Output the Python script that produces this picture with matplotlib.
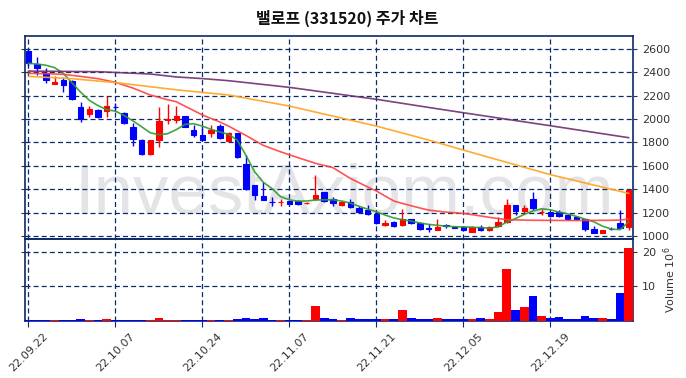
import matplotlib
matplotlib.use("Agg")
import matplotlib.pyplot as plt
import numpy as np

# ---------------- data ----------------
title = "밸로프 (331520) 주가 차트"
tick_pos = [0, 10, 20, 30, 40, 50, 60]
tick_labels = ['22.09.22', '22.10.07', '22.10.24', '22.11.07', '22.11.21', '22.12.05', '22.12.19']

opens = [2580, 2470, 2390, 2302, 2330, 2325, 2100, 2045, 2075, 2065,
         2105, 2050, 1930, 1825, 1700, 1820, 1988, 1992, 2025, 1905,
         1860, 1885, 1940, 1815, 1880, 1615, 1435, 1340, 1295, 1290,
         1300, 1300, 1279, 1316, 1375, 1315, 1262, 1295, 1240, 1220,
         1190, 1092, 1122, 1092, 1142, 1112, 1068, 1052, 1093, 1077,
         1075, 1038, 1075, 1052, 1088, 1122, 1265, 1215, 1315, 1205,
         1205, 1205, 1180, 1163, 1142, 1060, 1030, 1062, 1113, 1080]
highs = [2590, 2530, 2435, 2370, 2360, 2330, 2145, 2115, 2090, 2195,
         2135, 2060, 1965, 1830, 1825, 2105, 2125, 2115, 2030, 1950,
         1940, 1950, 1960, 1890, 1880, 1690, 1440, 1465, 1330, 1320,
         1305, 1310, 1290, 1520, 1380, 1330, 1292, 1320, 1260, 1265,
         1195, 1140, 1130, 1228, 1150, 1120, 1100, 1143, 1105, 1090,
         1090, 1090, 1095, 1090, 1165, 1315, 1268, 1265, 1380, 1230,
         1210, 1220, 1190, 1175, 1150, 1085, 1055, 1075, 1222, 1395]
lows = [2450, 2380, 2310, 2300, 2235, 2165, 1975, 2020, 2010, 2015,
        2070, 1960, 1770, 1690, 1690, 1765, 1955, 1970, 1930, 1850,
        1820, 1850, 1830, 1815, 1670, 1390, 1310, 1305, 1255, 1260,
        1270, 1265, 1270, 1310, 1295, 1255, 1260, 1240, 1200, 1180,
        1100, 1090, 1075, 1088, 1105, 1050, 1035, 1048, 1072, 1065,
        1045, 1035, 1045, 1040, 1080, 1110, 1180, 1195, 1225, 1180,
        1160, 1160, 1140, 1140, 1045, 1025, 1025, 1048, 1060, 1050]
closes = [2480, 2435, 2330, 2320, 2295, 2175, 2000, 2085, 2020, 2110,
          2100, 1965, 1830, 1700, 1820, 1985, 2000, 2025, 1935, 1860,
          1825, 1905, 1840, 1878, 1675, 1405, 1350, 1310, 1290, 1295,
          1275, 1272, 1285, 1350, 1300, 1280, 1290, 1250, 1210, 1185,
          1110, 1112, 1082, 1142, 1110, 1058, 1063, 1080, 1082, 1072,
          1055, 1080, 1052, 1080, 1122, 1265, 1215, 1237, 1238, 1210,
          1168, 1170, 1145, 1150, 1058, 1030, 1050, 1058, 1068, 1390]
volumes = [0.2, 0.2, 0.2, 0.3, 0.2, 0.2, 0.6, 0.3, 0.2, 0.6,
           0.2, 0.2, 0.2, 0.2, 0.3, 0.9, 0.3, 0.3, 0.2, 0.2,
           0.2, 0.3, 0.2, 0.3, 0.6, 0.9, 0.6, 0.9, 0.3, 0.3,
           0.2, 0.3, 0.3, 4.3, 0.9, 0.6, 0.3, 0.9, 0.6, 0.6,
           0.6, 0.6, 0.6, 3.1, 0.9, 0.6, 0.6, 0.9, 0.6, 0.6,
           0.6, 0.6, 0.9, 0.6, 2.6, 15.1, 3.1, 4.1, 7.1, 1.4,
           0.9, 1.1, 0.6, 0.6, 1.5, 0.9, 0.9, 0.6, 8.0, 21.1]

ma5 = [2477, 2470, 2460, 2440, 2391, 2310, 2230, 2160, 2115, 2080,
       2068, 2030, 1985, 1935, 1883, 1866, 1875, 1910, 1955, 1960,
       1940, 1912, 1890, 1870, 1820, 1690, 1550, 1460, 1406, 1336,
       1310, 1298, 1300, 1308, 1310, 1310, 1300, 1282, 1255, 1230,
       1208, 1180, 1155, 1140, 1128, 1112, 1100, 1092, 1085, 1080,
       1078, 1076, 1072, 1068, 1080, 1120, 1150, 1185, 1215, 1233,
       1225, 1205, 1190, 1168, 1145, 1122, 1085, 1060, 1055, 1120]
ma20_idx = [0, 2, 4, 6, 8, 10, 12, 14, 16, 17, 18, 20, 22, 23, 25, 27, 29, 31,
            33, 35, 37, 39, 40, 42, 43, 45, 46, 48, 50, 52, 53, 55, 58, 63, 67, 68, 69]
ma20 = [2391, 2388, 2382, 2365, 2345, 2314, 2265, 2206, 2165, 2148, 2110, 2035,
        1975, 1940, 1860, 1775, 1720, 1670, 1622, 1585, 1493, 1420, 1385, 1300,
        1279, 1240, 1222, 1205, 1194, 1172, 1160, 1140, 1135, 1133, 1135, 1137, 1145]
ma60_idx = [0, 5, 10, 17, 23, 30, 40, 46, 50, 60, 69]
ma60 = [2365, 2345, 2312, 2250, 2206, 2111, 1940, 1821, 1735, 1525, 1365]
ma120_idx = [0, 8, 14, 17, 20, 23, 30, 40, 45, 50, 60, 69]
ma120 = [2410, 2405, 2385, 2360, 2346, 2328, 2271, 2169, 2111, 2054, 1943, 1841]

# ---------------- figure ----------------
navy = '#0b2a66'
fig = plt.figure(figsize=(6.86, 3.78), dpi=100)
ax1 = fig.add_axes([0.0364, 0.3677, 0.8863, 0.5371])
ax2 = fig.add_axes([0.0364, 0.1508, 0.8863, 0.2169], sharex=ax1)

x = np.arange(len(closes))
o = np.array(opens); c = np.array(closes)
up = c >= o
cols = np.where(up, '#ff0000', '#0000ff')

ax1.text(0.109, 0.4365, 'InvestAxiom.com', transform=fig.transFigure,
         fontsize=51, color='#e4e4e6', family='Liberation Sans',
         ha='left', va='baseline', zorder=0)

ax1.vlines(x, lows, highs, colors=cols, linewidth=1.0, zorder=3)
ax1.bar(x, np.abs(c - o), bottom=np.minimum(o, c), width=0.62,
        color=cols, edgecolor=cols, linewidth=0.8, zorder=4)

ax1.plot(x, ma5, color='#2e9a2e', lw=1.2, alpha=0.9, zorder=5)
ax1.plot(ma20_idx, ma20, color='#ff4040', lw=1.2, alpha=0.9, zorder=5)
ax1.plot(ma60_idx, ma60, color='#ffa726', lw=1.2, alpha=0.95, zorder=5)
ax1.plot(ma120_idx, ma120, color='#6e2f6e', lw=1.2, alpha=0.9, zorder=5)

ax1.set_xlim(-0.4, 69.5)
ax1.set_ylim(975, 2710)
ax1.set_yticks(np.arange(1000, 2601, 200))
ax1.yaxis.tick_right()
ax1.tick_params(axis='y', which='both', left=True, right=True, labelleft=False,
                labelright=True, labelsize=8, colors='#333333', length=3)
ax1.tick_params(axis='x', bottom=False, labelbottom=False)
ax1.set_axisbelow(True)
ax1.grid(True, linestyle=(0, (4, 2.5)), color=navy, linewidth=0.9)

ax2.bar(x, volumes, width=1.0, color=cols, zorder=3)
ax2.set_ylim(0, 23.7)
ax2.set_yticks([10, 20])
ax2.yaxis.tick_right()
ax2.yaxis.set_label_position('right')
ax2.set_ylabel('Volume $10^6$', fontsize=8, color='#333333', labelpad=4)
ax2.tick_params(axis='y', left=True, right=True, labelleft=False, labelright=True,
                labelsize=8, colors='#333333', length=3)
ax2.set_xticks(tick_pos)
ax2.set_xticklabels(tick_labels, rotation=45, ha='center',
                    fontsize=8, color='#333333')
ax2.tick_params(axis='x', length=4, color=navy)
ax2.set_axisbelow(True)
ax2.grid(True, linestyle=(0, (4, 2.5)), color=navy, linewidth=0.9)

for ax in (ax1, ax2):
    for s in ax.spines.values():
        s.set_color(navy)
        s.set_linewidth(1.2)
    ax.set_facecolor('none')

fig.text(0.506, 0.952, title, ha='center', va='center', fontsize=11.5,
         fontweight='bold', family=['Noto Sans CJK KR', 'DejaVu Sans'], color='#111111')

fig.savefig('out.png', dpi=100)
